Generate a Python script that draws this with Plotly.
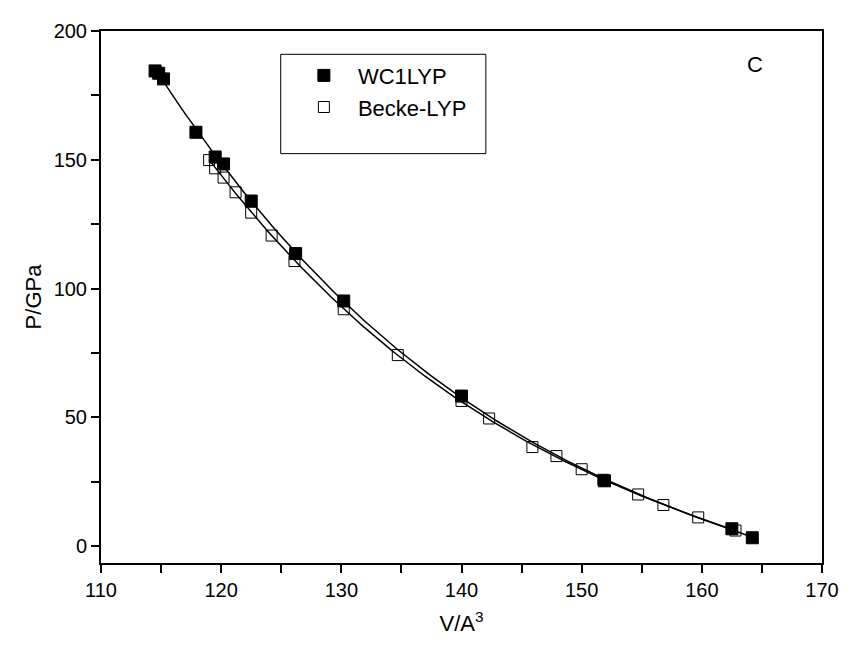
import numpy as np
import plotly.graph_objects as go

# WC1LYP (filled squares)
wc_v = [114.5, 114.8, 115.2, 117.9, 119.5, 120.2, 122.5, 126.2, 130.2, 140.0, 151.9, 162.5, 164.2]
wc_p = [184.5, 183.6, 181.4, 160.7, 151.1, 148.4, 134.0, 113.6, 95.2, 58.3, 25.4, 6.8, 3.3]

# Becke-LYP (open squares)
bl_v = [119.0, 119.5, 120.2, 121.2, 122.5, 124.2, 126.1, 130.2, 134.7, 140.0, 142.3, 145.9, 147.9, 150.0, 151.8, 154.7, 156.8, 159.7, 162.8]
bl_p = [149.9, 146.7, 143.1, 137.4, 129.5, 120.6, 110.7, 92.0, 74.2, 56.4, 49.6, 38.5, 35.0, 29.9, 25.8, 20.1, 16.0, 11.2, 6.1]

x_ticks = [110, 120, 130, 140, 150, 160, 170]
y_ticks = [0, 50, 100, 150, 200]

FONT = "Liberation Sans, Arial, sans-serif"

W, H = 843, 642
L, R, T, B = 92.5, 823.5, 14, 555   # plot area in figure pixels
PW, PH = R - L, B - T

def px(fx):
    return (fx - L) / PW

def py(fy):
    return (B - fy) / PH

def fit_curve(v, p):
    c = np.polyfit(v, p, 3)
    xs = np.linspace(min(v), max(v), 200)
    return xs, np.polyval(c, xs)

fig = go.Figure()
xs, ys = fit_curve(wc_v, wc_p)
fig.add_trace(go.Scatter(x=xs, y=ys, mode="lines", line=dict(color="black", width=1.5),
                         showlegend=False, hoverinfo="skip"))
xs, ys = fit_curve(bl_v, bl_p)
fig.add_trace(go.Scatter(x=xs, y=ys, mode="lines", line=dict(color="black", width=1.5),
                         showlegend=False, hoverinfo="skip"))
fig.add_trace(go.Scatter(x=wc_v, y=wc_p, mode="markers", name="WC1LYP",
                         marker=dict(symbol="square", size=12, color="black",
                                     line=dict(color="black", width=1))))
fig.add_trace(go.Scatter(x=bl_v, y=bl_p, mode="markers", name="Becke-LYP",
                         marker=dict(symbol="square-open", size=11, color="black",
                                     line=dict(color="black", width=1))))

axis_common = dict(showline=True, linecolor="black", linewidth=2, mirror=True,
                   ticks="outside", ticklen=8, tickwidth=1.5, tickcolor="black",
                   showgrid=False, zeroline=False,
                   tickfont=dict(family=FONT, size=20, color="black"))

fig.update_xaxes(range=[110, 170], tickvals=x_ticks,
                 minor=dict(ticks="outside", ticklen=8, tickwidth=1.5, dtick=5, tick0=110, tickcolor="black"),
                 title=dict(text="V/A<sup>3</sup>", font=dict(family=FONT, size=22, color="black"), standoff=16),
                 **axis_common)
fig.update_yaxes(range=[-6.5, 200], tickvals=y_ticks,
                 minor=dict(ticks="outside", ticklen=8, tickwidth=1.5, dtick=25, tick0=0, tickcolor="black"),
                 title=dict(text="P/GPa", font=dict(family=FONT, size=22, color="black"), standoff=6),
                 **axis_common)

fig.add_shape(type="rect", xref="paper", yref="paper",
              x0=px(274.7), x1=px(482.7), y0=py(138.7), y1=py(37.7),
              line=dict(color="black", width=1), fillcolor="rgba(0,0,0,0)")

fig.add_annotation(text="C", xref="paper", yref="paper",
                   x=px(756), y=py(48), xanchor="center", yanchor="middle", showarrow=False,
                   font=dict(family=FONT, size=22, color="black"))

fig.update_layout(
    width=W, height=H,
    margin=dict(l=L, r=W - R, t=T, b=H - B, pad=0),
    paper_bgcolor="white", plot_bgcolor="white",
    font=dict(family=FONT, color="black"),
    legend=dict(x=px(284), y=py(38), xanchor="left", yanchor="top",
                bgcolor="rgba(0,0,0,0)", borderwidth=0,
                font=dict(family=FONT, size=22, color="black"),
                itemwidth=58, tracegroupgap=2),
)

fig.write_html("out.html")
